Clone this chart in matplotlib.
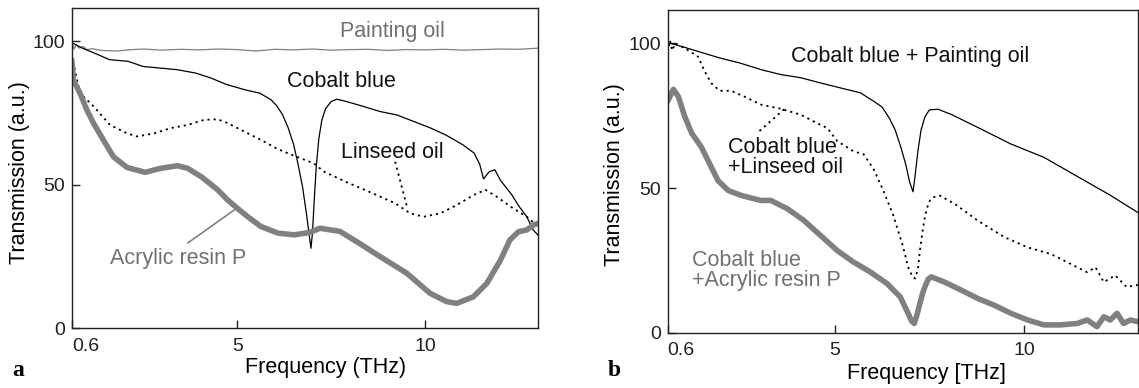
import matplotlib
matplotlib.use("Agg")
import matplotlib.pyplot as plt

plt.rcParams['font.family'] = ['Liberation Sans', 'DejaVu Sans']

# ---- panel a data ----
paint_x = [0.6, 0.66, 0.72, 0.8, 0.9, 1.0, 1.15, 1.4, 1.8, 2.1, 2.5, 3.0, 3.5, 4.0, 4.5, 5.0, 5.5,
           6.0, 6.5, 7.0, 7.5, 8.0, 8.5, 9.0, 9.5, 10.0, 10.5, 11.0, 11.5, 12.0, 12.5, 13.0]
paint_y = [100.3, 97.2, 98.8, 97.6, 98.2, 97.1, 97.4, 96.8, 96.6, 97.0, 97.3, 96.9, 97.2, 97.0, 97.3,
           97.1, 96.6, 97.2, 97.0, 97.3, 96.9, 97.1, 97.2, 96.8, 97.1, 97.0, 97.2, 96.9, 97.1, 97.3, 97.2, 97.6]

cobalt_x = [0.6, 0.9, 1.2, 1.6, 2.1, 2.5, 3.0, 3.4, 3.9, 4.3, 4.7, 5.2, 5.6, 5.9, 6.05, 6.2, 6.35,
            6.5, 6.62, 6.74, 6.85, 6.96, 7.0, 7.05, 7.1, 7.17, 7.25, 7.35, 7.5, 7.65, 7.9, 8.35, 8.8,
            9.25, 9.7, 10.15, 10.55, 11.0, 11.3, 11.45, 11.55, 11.7, 11.85, 12.0, 12.3, 12.5, 12.7,
            12.87, 13.0]
cobalt_y = [99.5, 97.5, 95.9, 93.6, 93.0, 91.2, 90.6, 90.1, 88.9, 87.2, 85.0, 83.1, 81.9, 79.6, 77.5,
            74.5, 70.0, 64.0, 57.0, 49.0, 39.0, 27.8, 33.0, 45.0, 56.0, 66.0, 72.5, 76.5, 79.0, 79.8,
            79.0, 77.3, 75.5, 74.3, 72.0, 69.7, 67.3, 63.9, 61.0, 57.0, 52.0, 54.5, 55.2, 51.5, 46.5,
            42.3, 38.8, 34.2, 32.4]

linseed_x = [0.6, 0.75, 0.82, 1.18, 1.62, 2.07, 2.34, 2.79, 3.23, 3.68, 4.12, 4.48, 4.74, 5.19, 5.63,
             6.08, 6.52, 7.03, 7.3, 7.92, 8.6, 9.2, 9.6, 9.96, 10.4, 10.84, 11.29, 11.6, 11.9, 12.34,
             12.7, 13.0]
linseed_y = [95.0, 86.0, 81.9, 77.3, 70.8, 67.9, 66.8, 67.9, 69.7, 70.8, 72.6, 72.8, 71.5, 68.5, 65.6,
             62.4, 60.0, 57.5, 54.6, 50.8, 47.0, 43.5, 40.0, 38.8, 40.0, 42.9, 46.4, 48.2, 45.8, 41.7,
             38.8, 35.4]

acryl_x = [0.6, 0.64, 0.82, 1.0, 1.18, 1.44, 1.71, 2.07, 2.55, 2.97, 3.41, 3.68, 4.04, 4.48, 4.74,
           5.0, 5.28, 5.63, 6.08, 6.52, 6.92, 7.2, 7.73, 8.18, 8.8, 9.51, 10.13, 10.57, 10.84, 11.28,
           11.64, 12.0, 12.25, 12.48, 12.7, 12.87, 13.0]
acryl_y = [93.5, 86.5, 81.9, 76.1, 71.4, 65.6, 59.7, 56.0, 54.3, 55.7, 56.6, 55.7, 52.8, 48.2, 44.7,
           41.8, 38.8, 35.4, 33.1, 32.5, 33.3, 34.8, 33.7, 30.1, 24.9, 19.1, 12.1, 9.2, 8.6, 10.9,
           15.6, 23.7, 30.7, 33.6, 34.2, 35.9, 36.5]

# ---- panel b data ----
cbpaint_x = [0.6, 0.64, 0.97, 1.4, 1.98, 2.5, 3.06, 3.58, 4.11, 4.63, 5.15, 5.68, 6.03, 6.25, 6.45,
             6.6, 6.75, 6.88, 6.98, 7.07, 7.13, 7.2, 7.28, 7.38, 7.5, 7.73, 8.08, 8.78, 9.65, 10.52,
             11.4, 12.27, 13.0]
cbpaint_y = [98.5, 100.1, 98.9, 97.2, 94.9, 93.2, 90.9, 89.2, 88.1, 86.3, 84.6, 82.9, 80.0, 78.0, 74.0,
             70.0, 64.0, 58.0, 52.0, 48.7, 55.0, 63.0, 70.0, 74.5, 77.0, 77.2, 75.4, 70.9, 65.2, 60.6,
             54.0, 47.5, 41.5]

cblin_x = [0.6, 0.66, 0.72, 0.8, 1.05, 1.4, 1.58, 1.75, 1.97, 2.27, 2.62, 3.06, 3.58, 4.11, 4.54,
           4.81, 5.07, 5.5, 5.77, 6.03, 6.29, 6.55, 6.8, 6.94, 7.05, 7.12, 7.2, 7.25, 7.32, 7.38,
           7.45, 7.51, 7.6, 7.77, 8.17, 8.78, 9.48, 10.09, 10.7, 11.22, 11.66, 11.88, 12.1, 12.4,
           12.7, 13.0]
cblin_y = [97.0, 101.0, 97.5, 100.0, 98.3, 95.4, 90.2, 86.2, 83.6, 83.6, 81.6, 78.8, 77.4, 75.3, 72.4,
           70.7, 66.2, 62.7, 61.6, 56.5, 49.0, 40.5, 30.0, 22.7, 19.5, 18.7, 22.0, 28.4, 35.0, 39.9,
           43.5, 45.6, 46.8, 47.4, 44.5, 38.7, 33.0, 29.5, 27.2, 23.8, 20.9, 22.6, 17.5, 19.8, 15.8,
           16.5]

cbacr_x = [0.6, 0.75, 0.88, 1.05, 1.23, 1.49, 1.75, 1.93, 2.2, 2.55, 2.9, 3.06, 3.32, 3.76, 4.19,
           4.63, 5.07, 5.5, 5.94, 6.38, 6.73, 6.94, 7.03, 7.1, 7.17, 7.25, 7.32, 7.38, 7.47, 7.55,
           7.9, 8.34, 8.78, 9.21, 9.65, 10.09, 10.52, 10.96, 11.4, 11.66, 11.92, 12.1, 12.27, 12.45,
           12.62, 12.8, 13.0]
cbacr_y = [80.0, 84.1, 81.6, 74.7, 69.0, 64.1, 57.2, 52.5, 49.1, 47.4, 46.2, 45.7, 45.7, 42.8, 38.8,
           33.6, 28.4, 24.4, 21.0, 17.0, 12.4, 6.7, 4.0, 3.2, 6.0, 10.1, 13.5, 15.8, 18.5, 19.3,
           17.5, 14.7, 11.8, 9.5, 6.7, 4.4, 2.7, 2.7, 3.2, 4.4, 2.1, 5.5, 4.4, 6.7, 3.2, 4.4, 3.8]

xticks = [0.6, 5, 10]
xtick_labels = ['0.6', '5', '10']
yticks = [0, 50, 100]

GRAY = '#808080'
DOT = (0, (1.2, 2.2))

fig = plt.figure(figsize=(11.39, 3.88), dpi=100)
ax_a = fig.add_axes([0.063, 0.1546, 0.4094, 0.824])
ax_b = fig.add_axes([0.5862, 0.1425, 0.4129, 0.8317])

for ax in (ax_a, ax_b):
    ax.set_xlim(0.6, 13.0)
    ax.set_ylim(0, 111.5)
    ax.set_xticks(xticks)
    ax.set_xticklabels(xtick_labels)
    ax.set_yticks(yticks)
    ax.tick_params(direction='in', length=6, width=1, labelsize=14, pad=5, colors='#222222')
    ax.tick_params(axis='x', pad=7)
    ax.get_xticklabels()[0].set_horizontalalignment('left')
    for s in ax.spines.values():
        s.set_linewidth(1.0)
        s.set_color('#222222')

# panel a
ax_a.plot(paint_x, paint_y, color=GRAY, lw=0.9)
ax_a.plot(cobalt_x, cobalt_y, color='black', lw=0.9)
ax_a.plot(linseed_x, linseed_y, color='black', lw=1.3, linestyle=DOT)
ax_a.plot(acryl_x, acryl_y, color=GRAY, lw=4.0, solid_capstyle='round')
ax_a.text(9.14, 103.3, 'Painting oil', color='#707070', fontsize=15.5, ha='center', va='center')
ax_a.text(7.76, 85.9, 'Cobalt blue', color='#111111', fontsize=15.5, ha='center', va='center')
ax_a.text(9.12, 61.1, 'Linseed oil', color='#111111', fontsize=15.5, ha='center', va='center')
ax_a.plot([9.2, 9.52], [58, 42], color='black', lw=1.3, linestyle=DOT)
ax_a.text(3.43, 24.1, 'Acrylic resin P', color='#707070', fontsize=15.5, ha='center', va='center')
ax_a.plot([3.69, 5.0], [29.7, 41.9], color=GRAY, lw=1.2)
ax_a.set_xlabel('Frequency (THz)', fontsize=15.5)
ax_a.xaxis.set_label_coords(0.545, -0.09)
ax_a.set_ylabel('Transmission (a.u.)', fontsize=15.5)
ax_a.yaxis.set_label_coords(-0.089, 0.485)

# panel b
ax_b.plot(cbpaint_x, cbpaint_y, color='black', lw=0.9)
ax_b.plot(cblin_x, cblin_y, color='black', lw=1.3, linestyle=DOT)
ax_b.plot(cbacr_x, cbacr_y, color=GRAY, lw=4.0, solid_capstyle='round')
ax_b.text(7.0, 95.4, 'Cobalt blue + Painting oil', color='#111111', fontsize=15.5, ha='center', va='center')
ax_b.text(2.18, 60.6, 'Cobalt blue\n+Linseed oil', color='#111111', fontsize=15.5, ha='left', va='center',
          linespacing=0.95)
ax_b.plot([3.02, 3.67], [69.7, 77.2], color='black', lw=1.3, linestyle=DOT)
ax_b.text(1.24, 21.5, 'Cobalt blue\n+Acrylic resin P', color='#707070', fontsize=15.5, ha='left', va='center',
          linespacing=0.95)
ax_b.set_xlabel('Frequency [THz]', fontsize=15.5)
ax_b.xaxis.set_label_coords(0.551, -0.095)
ax_b.set_ylabel('Transmission (a.u.)', fontsize=15.5)
ax_b.yaxis.set_label_coords(-0.091, 0.489)

fig.text(18 / 1139, 1 - 371 / 388, 'a', family='Liberation Serif', fontweight='bold', fontsize=17,
         ha='center', va='center')
fig.text(614 / 1139, 1 - 371 / 388, 'b', family='Liberation Serif', fontweight='bold', fontsize=17,
         ha='center', va='center')

fig.savefig('out.png', dpi=100)
